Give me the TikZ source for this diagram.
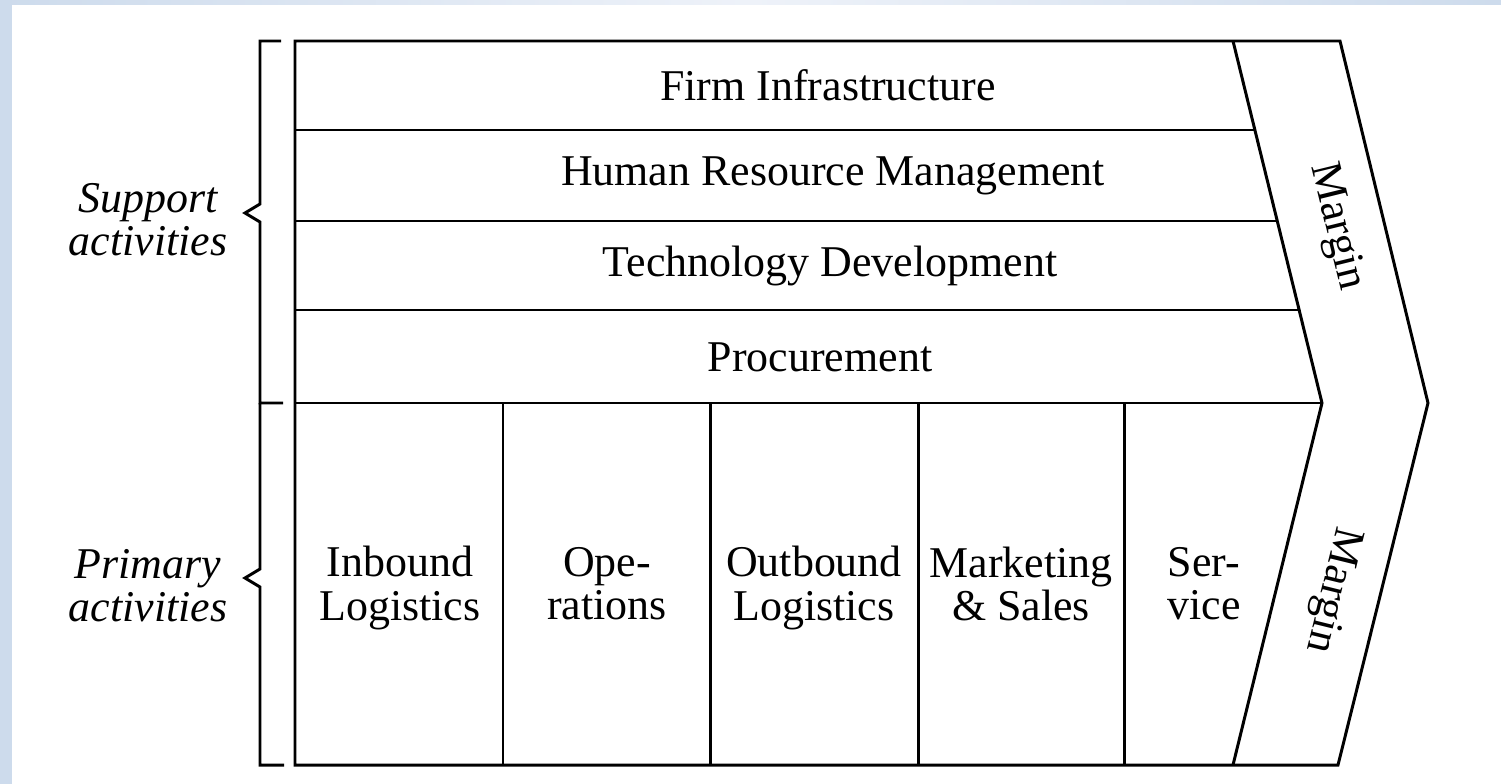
\documentclass[tikz,border=0pt]{standalone}
\usepackage{fontspec}
\setmainfont{Liberation Serif}
\usetikzlibrary{calc}
\definecolor{slideblue}{RGB}{205,219,236}
\definecolor{slidepale}{RGB}{238,242,249}

\begin{document}
\begin{tikzpicture}[x=0.02cm, y=-0.02cm,
    every node/.style={inner sep=0pt, align=center, font=\fontsize{25}{24.5}\selectfont},
    chain/.style={line width=1.7pt, line join=miter},
    side/.style={font=\fontsize{25}{24.5}\selectfont\itshape}]
  \useasboundingbox (0,0) rectangle (1501,784);
  % slide background
  \fill[white] (0,0) rectangle (1501,784);
  \fill[slideblue] (0,0) rectangle (12,784);
  \shade[left color=slideblue, right color=slideblue, middle color=slidepale] (0,0) rectangle (1501,5);

  % corners of the chain
  \coordinate (nw) at (295,41);
  \coordinate (sw) at (295,765);
  \coordinate (in-top) at (1233,41);
  \coordinate (in-tip) at (1322,403);
  \coordinate (in-bot) at (1233,765);
  \coordinate (out-top) at (1340,41);
  \coordinate (out-tip) at (1428,403);
  \coordinate (out-bot) at (1338,765);

  \draw[chain] (nw) -- (out-top) -- (out-tip) -- (out-bot) -- (sw) -- cycle;
  \draw[chain] (in-top) -- (in-tip) -- (in-bot);
  \foreach \y/\x in {130/1255, 221/1277, 310/1299, 403/1322}
    \draw[chain] (295,\y) -- (\x,\y);
  \foreach \x in {503, 710, 918, 1124}
    \draw[chain] (\x,403) -- (\x,765);

  % braces
  \draw[chain] (281,41) -- (260,41) -- (260,204) -- (245,213) -- (260,222) -- (260,403) -- (283,403);
  \draw[chain] (260,403) -- (260,569) -- (245,578) -- (260,587) -- (260,765) -- (284,765);

  % support activities
  \node (firm) at (828,85) {Firm Infrastructure};
  \node (hrm) at (833,176) {Human Resource Management};
  \node (tech) at (830,266) {Technology Development};
  \node (proc) at (820,357) {Procurement};

  % primary activities
  \node (inbound) at (400,588) {Inbound\\Logistics};
  \node (ops) at (607,584) {Ope-\\rations};
  \node (outbound) at (814,588) {Outbound\\Logistics};
  \node (market) at (1021,584) {Marketing\\\& Sales};
  \node (service) at (1204,584) {Ser-\\vice};

  \node[rotate=-76.2] (margin-up) at (1336,227) {Margin};
  \node[rotate=-103.8] (margin-dn) at (1332,590) {Margin};

  \node[side] (support) at (148,220) {Support\\activities};
  \node[side] (primary) at (148,586) {Primary\\activities};
\end{tikzpicture}
\end{document}
